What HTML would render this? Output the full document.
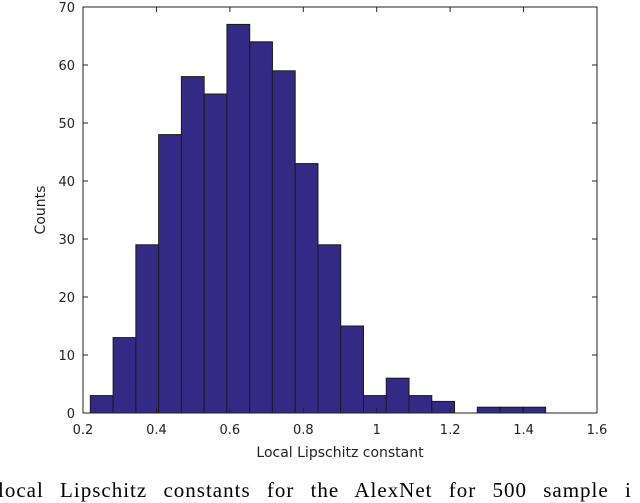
<!DOCTYPE html>
<html><head><meta charset="utf-8"><style>
body{margin:0;background:#fff;width:640px;height:495px;overflow:hidden;position:relative}
svg{position:absolute;left:0;top:0}
.cap{position:absolute;left:-2px;top:478px;white-space:nowrap;font-family:"Liberation Serif",serif;font-size:21px;letter-spacing:1px;word-spacing:10px;color:#000}
</style></head><body>
<svg width="640" height="470" id="chart"></svg>
<div class="cap">local Lipschitz constants for the AlexNet for 500 sample i</div>
<script>
const binStart = 0.22;
const binWidth = 0.062;
const counts = [3,13,29,48,58,55,67,64,59,43,29,15,3,6,3,2,0,1,1,1];
const xTicks = [0.2,0.4,0.6,0.8,1,1.2,1.4,1.6];
const xTickLabels = ["0.2","0.4","0.6","0.8","1","1.2","1.4","1.6"];
const yTicks = [0,10,20,30,40,50,60,70];
const X0=83,X1=597,Y0=413,Y1=7;
const xs=v=>X0+(v-0.2)/1.4*(X1-X0);
const ys=v=>Y0-v/70*(Y0-Y1);
const NS="http://www.w3.org/2000/svg";
const svg=document.getElementById('chart');
function mk(t,a,txt){const e=document.createElementNS(NS,t);for(const k in a)e.setAttribute(k,a[k]);if(txt!==undefined)e.textContent=txt;svg.appendChild(e);return e;}
counts.forEach((c,i)=>{
  if(c<=0)return;
  const x=xs(binStart+i*binWidth),x2=xs(binStart+(i+1)*binWidth);
  const r=mk('rect',{x:x,y:ys(c),width:x2-x,height:ys(0)-ys(c),fill:'#332a86',stroke:'#1a1a1a','stroke-width':1});
  
  
});
const ax=mk('rect',{x:X0,y:Y1,width:X1-X0,height:Y0-Y1,fill:'none',stroke:'#222','stroke-width':1});


xTicks.forEach((v,i)=>{
  const x=xs(v);
  mk('line',{x1:x,y1:Y0,x2:x,y2:Y0-5,stroke:'#222'});
  mk('line',{x1:x,y1:Y1,x2:x,y2:Y1+5,stroke:'#222'});
  const t=mk('text',{x:x,y:Y0+21,'text-anchor':'middle','font-family':'DejaVu Sans, sans-serif','font-size':13,fill:'#222'},xTickLabels[i]);
  
  
});
yTicks.forEach(v=>{
  const y=ys(v);
  mk('line',{x1:X0,y1:y,x2:X0+5,y2:y,stroke:'#222'});
  mk('line',{x1:X1,y1:y,x2:X1-5,y2:y,stroke:'#222'});
  const t=mk('text',{x:X0-8,y:y+5,'text-anchor':'end','font-family':'DejaVu Sans, sans-serif','font-size':13,fill:'#222'},String(v));
  
  
});
const xl=mk('text',{x:(X0+X1)/2,y:457,'text-anchor':'middle','font-family':'DejaVu Sans, sans-serif','font-size':14,fill:'#222'},'Local Lipschitz constant');


const yl=mk('text',{x:0,y:0,'text-anchor':'middle','font-family':'DejaVu Sans, sans-serif','font-size':14,fill:'#222',transform:'translate(45,210) rotate(-90)'},'Counts');


</script>
</body></html>
